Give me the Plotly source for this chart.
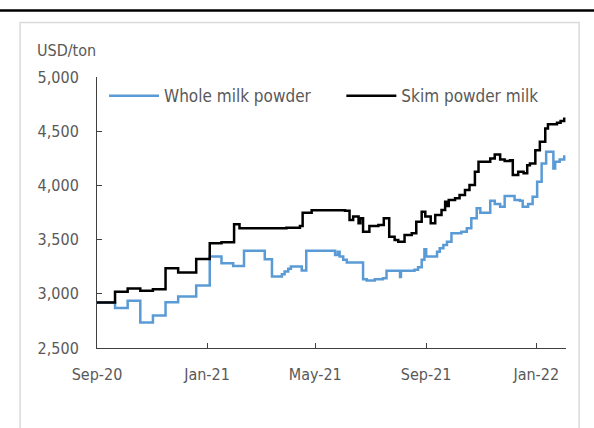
import plotly.graph_objects as go

# Whole milk powder (change points, step-after)
wmp_dates = ["2020-09-01","2020-09-21","2020-10-05","2020-10-19","2020-11-02","2020-11-16","2020-11-30",
             "2020-12-20","2021-01-04","2021-01-17","2021-01-30","2021-02-11","2021-03-06","2021-03-14",
             "2021-03-25","2021-03-28","2021-04-01","2021-04-04","2021-04-16","2021-04-21","2021-05-19",
             "2021-05-23","2021-05-26","2021-05-28","2021-06-01","2021-06-05","2021-06-23","2021-06-27",
             "2021-07-06","2021-07-15","2021-07-19","2021-08-03","2021-08-04","2021-08-19","2021-08-23",
             "2021-08-27","2021-08-30","2021-09-01","2021-09-13","2021-09-16","2021-09-20","2021-09-24",
             "2021-09-29","2021-10-10","2021-10-16","2021-10-21","2021-10-27","2021-10-31","2021-11-11",
             "2021-11-16","2021-11-22","2021-11-27","2021-12-08","2021-12-14","2021-12-17","2021-12-23",
             "2021-12-28","2022-01-02","2022-01-07","2022-01-12","2022-01-20","2022-01-22","2022-01-27",
             "2022-02-01"]
wmp_values = [2920,2868,2935,2736,2800,2923,2975,
              3076,3343,3282,3257,3396,3319,3159,
              3180,3205,3230,3251,3214,3396,3396,
              3359,3389,3343,3313,3288,3135,3122,
              3135,3144,3212,3154,3212,3221,3245,
              3313,3411,3343,3389,3420,3451,3481,
              3558,3573,3604,3697,3789,3748,3859,
              3828,3803,3902,3865,3859,3803,3828,
              3895,4034,4203,4310,4157,4218,4240,
              4279]

# Skim powder milk
smp_dates = ["2020-09-01","2020-09-21","2020-10-05","2020-10-19","2020-11-02","2020-11-16","2020-11-30",
             "2020-12-20","2021-01-04","2021-01-17","2021-01-31","2021-02-06","2021-03-30","2021-04-14",
             "2021-04-17","2021-04-27","2021-06-03","2021-06-08","2021-06-12","2021-06-18","2021-06-20",
             "2021-06-23","2021-06-30","2021-07-10","2021-07-16","2021-07-22","2021-07-28","2021-08-01",
             "2021-08-08","2021-08-16","2021-08-21","2021-08-27","2021-08-31","2021-09-06","2021-09-11",
             "2021-09-18","2021-09-22","2021-09-24","2021-09-26","2021-10-03","2021-10-08","2021-10-14",
             "2021-10-19","2021-10-25","2021-10-29","2021-11-11","2021-11-16","2021-11-22","2021-11-27",
             "2021-12-03","2021-12-06","2021-12-12","2021-12-18","2021-12-22","2021-12-25","2021-12-31",
             "2022-01-05","2022-01-11","2022-01-14","2022-01-24","2022-01-28","2022-02-01"]
smp_values = [2920,3020,3050,3027,3043,3236,3196,
              3322,3466,3475,3641,3605,3610,3626,
              3748,3770,3767,3681,3712,3651,3697,
              3573,3626,3635,3697,3527,3497,3481,
              3543,3558,3665,3757,3712,3651,3727,
              3773,3849,3810,3865,3881,3911,3957,
              4003,4126,4218,4249,4286,4240,4224,
              4233,4095,4126,4111,4187,4203,4325,
              4402,4525,4565,4577,4595,4626]

tick_dates = ["2020-09-01","2021-01-01","2021-05-01","2021-09-01","2022-01-01"]
tick_labels = ["Sep-20","Jan-21","May-21","Sep-21","Jan-22"]
y_ticks = [2500,3000,3500,4000,4500,5000]

FONT = "DejaVu Sans Condensed, Tahoma, DejaVu Sans, sans-serif"
GRAY = "#595959"

fig = go.Figure()
fig.add_trace(go.Scatter(x=wmp_dates, y=wmp_values, name="Whole milk powder", mode="lines",
                         line=dict(color="#5B9BD5", width=2.5, shape="hv"), legend="legend"))
fig.add_trace(go.Scatter(x=smp_dates, y=smp_values, name="Skim powder milk", mode="lines",
                         line=dict(color="#000000", width=2.5, shape="hv"), legend="legend2"))

leg_common = dict(orientation="h", xanchor="left", yanchor="middle",
                  bgcolor="rgba(0,0,0,0)", font=dict(size=17, color=GRAY), itemwidth=50)

fig.update_layout(
    width=594, height=428,
    margin=dict(l=97, r=28, t=77, b=80),
    paper_bgcolor="white", plot_bgcolor="white",
    font=dict(family=FONT, size=16, color=GRAY),
    showlegend=True,
    legend=dict(x=0.015, y=0.929, **leg_common),
    legend2=dict(x=0.521, y=0.929, **leg_common),
    xaxis=dict(type="date", range=["2020-09-01", "2022-02-03"],
               tickvals=tick_dates, ticktext=tick_labels,
               showgrid=False, zeroline=False,
               showline=True, linecolor="#404040", linewidth=1,
               ticks="inside", ticklen=5, tickcolor="#404040",
               ticklabelstandoff=12, tickfont=dict(size=16, color=GRAY)),
    yaxis=dict(range=[2500, 5000], tickvals=y_ticks, tickformat=",",
               showgrid=False, zeroline=False,
               showline=True, linecolor="#404040", linewidth=1,
               ticks="inside", ticklen=5, tickcolor="#404040",
               ticklabelstandoff=14, tickfont=dict(size=16, color=GRAY)),
    annotations=[dict(text="USD/ton", xref="paper", yref="paper", x=-0.132, y=1.098,
                      xanchor="left", yanchor="middle", showarrow=False,
                      font=dict(size=16, color=GRAY))],
    shapes=[
        dict(type="rect", xref="paper", yref="paper", x0=-0.164, x1=1.028, y0=-0.40, y1=1.2014,
             line=dict(color="#D9D9D9", width=1.5), fillcolor="rgba(0,0,0,0)", layer="below"),
        dict(type="line", xref="paper", yref="paper", x0=-0.25, x1=1.1, y0=1.245, y1=1.245,
             line=dict(color="#000000", width=2.5)),
    ],
)

fig.write_html("out.html")
